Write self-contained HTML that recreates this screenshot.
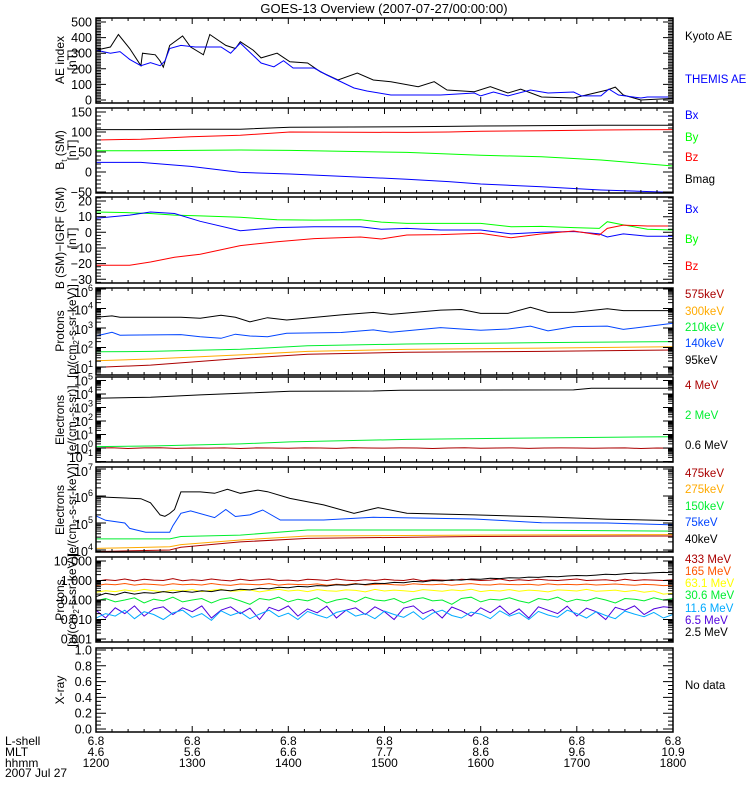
<!DOCTYPE html>
<html><head><meta charset="utf-8">
<style>
html,body{margin:0;padding:0;background:#fff;}
svg{display:block;font-family:"Liberation Sans",sans-serif;}
</style></head>
<body>
<svg id="chart" width="750" height="800" viewBox="0 0 750 800" xmlns="http://www.w3.org/2000/svg">
<text x="384" y="13" font-size="13" text-anchor="middle">GOES-13 Overview (2007-07-27/00:00:00)</text>
<g id="g"></g>
</svg>
<script>
// ---------- DATA (minutes after 12:00 ; values) ----------
const aeKyotoT=[0,9,14,21,28,29,37,40,42,46,54,59,67,71,81,87,90,98,103,113,121,132,140,151,163,173,184,201,211,219,236,246,257,265,278,298,319,324,329,340,360];
const aeKyotoV=[320,340,420,330,220,300,290,250,210,350,410,340,290,420,350,330,374,320,270,300,245,237,181,128,173,128,117,85,117,64,53,85,45,70,19,13,64,83,32,0,10];
const aeThemisT=[0,9,15,21,28,34,40,43,46,53,62,78,84,90,103,111,117,123,136,144,161,169,184,215,236,240,248,257,271,282,298,303,315,320,326,340,344,360];
const aeThemisV=[320,300,310,260,220,240,220,250,330,350,340,340,300,365,237,213,252,205,205,160,77,58,32,32,45,26,51,26,64,45,51,26,26,70,32,13,19,19];

const bSmT=[0,28,59,90,121,194,220,240,278,315,360];
const bmagV=[106,106,107,107,112,113,114,115,116,117,117];
const bzV=[80,82,88,92,100,99,100,102,103,105,106];
const byV=[53,53,54,55,54,49,45,42,38,30,15];
const bxV=[24,24,14,-1,-5,-18,-24,-30,-37,-45,-51];

const dbT=[0,21,34,49,65,90,113,136,165,178,194,215,240,259,278,298,314,319,329,344,360];
const dbXV=[9,11,13,12,7,1,3,3.6,3.6,2,2.5,1.5,1.5,-1,0,0.5,-1,-3,-1,-2.5,-2.5];
const dbYV=[13,12.5,12,11,10.5,9.6,8,7.8,8,6.5,5.7,5.7,5.7,3.6,3.8,3,2.5,6.8,4.7,2,1.5];
const dbZV=[-21,-21,-19,-16,-14,-8.5,-6,-4,-3,-4.3,-1.7,-1.5,-0.6,-3.5,-1,0.8,-1.7,2.5,4.6,4,4];

// Protons (log10 flux)
const pT=[0,10,15,53,65,78,87,96,107,119,153,173,184,215,228,240,257,271,282,298,319,329,360];
const p95V=[3.55,3.62,3.55,3.55,3.5,3.65,3.55,3.32,3.53,3.41,3.67,3.8,3.7,3.92,3.95,3.75,3.75,4.06,3.8,3.8,3.99,3.89,3.89];
const p140V=[2.59,2.78,2.63,2.66,2.55,2.47,2.68,2.59,2.55,2.73,2.77,2.9,2.78,3.02,2.95,2.88,2.95,3.1,2.85,3.07,3.1,2.93,3.24];
const pLowT=[0,34,90,132,194,278,360];
const p210V=[1.78,1.8,1.91,2.09,2.18,2.25,2.3];
const p300V=[1.32,1.41,1.62,1.8,1.9,1.97,2.04];
const p575V=[0.98,1.1,1.44,1.65,1.76,1.8,1.87];

// Electrons integral (log10)
const eT=[0,34,65,96,121,173,190,298,309,360];
const e06V=[3.68,3.76,3.93,4.08,4.2,4.22,4.28,4.3,4.42,4.43];
const e2T=[0,34,90,121,194,298,360];
const e2V=[0.1,0.15,0.3,0.45,0.64,0.77,0.84];
const e4V=[0.0,0.02,-0.04,0.01,0.02,-0.03,0.0,-0.01,0.01,-0.04,0.01,0.0,-0.02,0.01,0.0,-0.03,0.02,0.0,-0.01,0.01,0.0,-0.04,0.0,0.02,-0.02,0.0,0.01,-0.03,0.0,0.01,0.0,-0.02,0.0,0.01,-0.04,0.0,-0.01];

// Electrons differential (log10)
const edT=[0,9,28,34,40,43,46,49,53,65,74,82,90,101,107,121,142,161,176,194,236,278,319,360];
const ed40V=[5.97,5.95,5.9,5.75,5.3,5.25,5.35,5.5,6.15,6.15,6.1,6.25,6.1,6.22,6.16,5.91,5.67,5.36,5.57,5.36,5.3,5.23,5.14,5.09];
const ed75T=[0,6,18,21,31,46,48,53,59,74,81,87,96,104,115,142,173,236,278,319,360];
const ed75V=[5.26,5.1,5.0,4.8,4.66,4.66,4.9,5.36,5.45,5.2,5.5,5.24,5.3,5.48,5.11,5.11,5.21,5.15,5.01,5.0,4.93];
const edLowT=[0,46,53,90,132,236,278,360];
const ed150V=[4.41,4.41,4.5,4.55,4.74,4.74,4.73,4.7];
const ed275V=[4.06,4.12,4.2,4.37,4.52,4.55,4.56,4.57];
const ed475V=[3.94,4.0,4.1,4.3,4.43,4.5,4.51,4.52];

// High energy protons (flux, evenly spaced 12:00-18:00)
const hp433V=[0.9,1.1,1.0,1.2,0.95,1.15,1.05,1.0,1.25,0.98,1.1,1.0,1.2,1.05,0.95,1.15,1.0,1.1,1.2,1.0,1.05,0.95,1.15,1.1,1.0,1.2,1.05,0.98,1.1,1.0,1.15,1.05,1.0,1.2,0.95,1.1,1.05,1.0,1.15,1.1,1.0,1.05,1.2,0.98,1.1,1.0,1.15,1.05,1.0,1.1,1.2,1.0,1.05,1.1,0.95,1.15,1.0,1.1,1.05,1.0,1.1];
const hp165V=[0.55,0.65,0.6,0.7,0.58,0.66,0.62,0.57,0.68,0.6,0.64,0.59,0.7,0.61,0.56,0.66,0.63,0.6,0.69,0.58,0.65,0.62,0.6,0.67,0.57,0.64,0.61,0.7,0.59,0.63,0.66,0.6,0.58,0.68,0.62,0.6,0.65,0.57,0.63,0.69,0.61,0.59,0.66,0.62,0.6,0.64,0.58,0.67,0.61,0.63,0.6,0.65,0.59,0.62,0.66,0.6,0.57,0.63,0.6,0.55,0.58];
const hp63V=[0.25,0.3,0.27,0.33,0.28,0.35,0.3,0.26,0.32,0.29,0.34,0.27,0.31,0.36,0.28,0.3,0.33,0.26,0.31,0.35,0.29,0.32,0.27,0.34,0.3,0.28,0.33,0.31,0.26,0.35,0.29,0.32,0.3,0.27,0.34,0.31,0.28,0.33,0.3,0.36,0.27,0.31,0.29,0.34,0.28,0.32,0.3,0.26,0.33,0.31,0.29,0.35,0.28,0.3,0.32,0.27,0.31,0.25,0.29,0.2,0.22];
const hp30V=[0.09,0.12,0.08,0.1,0.13,0.07,0.11,0.09,0.14,0.08,0.1,0.12,0.07,0.11,0.13,0.09,0.06,0.12,0.1,0.14,0.08,0.11,0.09,0.13,0.07,0.1,0.12,0.08,0.14,0.1,0.09,0.12,0.07,0.11,0.13,0.09,0.1,0.06,0.12,0.14,0.08,0.11,0.1,0.13,0.09,0.07,0.12,0.1,0.14,0.08,0.11,0.09,0.13,0.1,0.07,0.12,0.11,0.09,0.13,0.1,0.12];
const hp11V=[0.012,0.02,0.015,0.03,0.011,0.025,0.018,0.01,0.022,0.03,0.013,0.02,0.009,0.028,0.016,0.024,0.011,0.019,0.03,0.014,0.021,0.01,0.026,0.017,0.012,0.023,0.03,0.015,0.02,0.011,0.027,0.018,0.013,0.025,0.01,0.021,0.03,0.016,0.012,0.024,0.019,0.011,0.028,0.015,0.022,0.01,0.026,0.017,0.013,0.03,0.02,0.012,0.025,0.016,0.011,0.027,0.019,0.014,0.023,0.012,0.018];
const hp6V=[0.03,0.012,0.04,0.02,0.05,0.015,0.035,0.045,0.018,0.04,0.025,0.05,0.012,0.03,0.045,0.02,0.038,0.01,0.042,0.028,0.05,0.015,0.035,0.022,0.048,0.012,0.03,0.04,0.018,0.045,0.025,0.01,0.038,0.05,0.02,0.032,0.012,0.044,0.028,0.015,0.04,0.022,0.05,0.018,0.035,0.012,0.045,0.03,0.02,0.048,0.015,0.038,0.025,0.01,0.042,0.03,0.05,0.018,0.035,0.045,0.04];
const hp2V=[0.15,0.22,0.18,0.25,0.2,0.24,0.22,0.27,0.23,0.28,0.25,0.3,0.27,0.33,0.3,0.36,0.33,0.4,0.37,0.45,0.42,0.5,0.47,0.55,0.52,0.6,0.57,0.66,0.62,0.72,0.7,0.8,0.76,0.9,0.85,1.0,0.95,1.1,1.05,1.2,1.15,1.3,1.25,1.4,1.35,1.5,1.45,1.6,1.55,1.7,1.8,1.75,1.9,2.1,2.0,2.2,2.4,2.3,2.5,2.6,2.5];

const hourLabels=['1200','1300','1400','1500','1600','1700','1800'];
const lshellLabels=['6.8','6.8','6.8','6.8','6.8','6.8','6.8'];
const mltLabels=['4.6','5.6','6.6','7.7','8.6','9.6','10.9'];

// ---------- RENDERING ----------
const NS='http://www.w3.org/2000/svg';
const G=document.getElementById('g');
const X0=96,X1=673;
function xs(m){return X0+m*(X1-X0)/360;}
function el(tag,attrs,parent){const e=document.createElementNS(NS,tag);for(const k in attrs)e.setAttribute(k,attrs[k]);(parent||G).appendChild(e);return e;}
function linS(v1,y1,v2,y2){return v=>y1+(v-v1)*(y2-y1)/(v2-v1);}
const panels=[
 {top:18,bot:103,name:'ae-panel'},
 {top:108,bot:193,name:'b-sm-panel'},
 {top:197,bot:283,name:'b-igrf-panel'},
 {top:288,bot:375,name:'protons-panel'},
 {top:377,bot:462,name:'electrons-integral-panel'},
 {top:467,bot:552,name:'electrons-diff-panel'},
 {top:557,bot:642,name:'hep-protons-panel'},
 {top:648,bot:732,name:'xray-panel'}
];
const sc=[linS(0,100,500,22),linS(0,172,150,112),linS(0,232.3,20,201),linS(1,367,5,289),linS(0,448,4,394),linS(4,550,7,469),linS(-1,600,1,561),linS(0,729,1,650)];

panels.forEach((p,i)=>{
  const cp=el('clipPath',{id:'c'+i});
  el('rect',{x:X0,y:p.top,width:X1-X0,height:p.bot-p.top},cp);
});

function line(name,color,T,V,pi,transform){
  const s=sc[pi];
  let d='';
  V.forEach((v,k)=>{const t=T?T[k]:k*360/(V.length-1);const vv=transform?transform(v):v;d+=(k?'L':'M')+xs(t).toFixed(1)+','+s(vv).toFixed(1);});
  const e=el('path',{d:d,fill:'none',stroke:color,'stroke-width':1,'clip-path':'url(#c'+pi+')'});
  
  
}
const lg=Math.log10;

line('kyoto-ae-line','#000',aeKyotoT,aeKyotoV,0);
line('themis-ae-line','#0000ff',aeThemisT,aeThemisV,0);
line('bmag-line','#000',bSmT,bmagV,1);
line('bz-line','#ff0000',bSmT,bzV,1);
line('by-line','#00ff00',bSmT,byV,1);
line('bx-line','#0000ff',bSmT,bxV,1);
line('dby-line','#00ff00',dbT,dbYV,2);
line('dbx-line','#0000ff',dbT,dbXV,2);
line('dbz-line','#ff0000',dbT,dbZV,2);
line('p95-line','#000',pT,p95V,3);
line('p140-line','#0044ff',pT,p140V,3);
line('p210-line','#00ee30',pLowT,p210V,3);
line('p300-line','#ffaa00',pLowT,p300V,3);
line('p575-line','#aa0000',pLowT,p575V,3);
line('e06-line','#000',eT,e06V,4);
line('e2-line','#00ee30',e2T,e2V,4);
line('e4-line','#aa0000',null,e4V,4);
line('ed40-line','#000',edT,ed40V,5);
line('ed75-line','#0044ff',ed75T,ed75V,5);
line('ed150-line','#00ee30',edLowT,ed150V,5);
line('ed275-line','#ffaa00',edLowT,ed275V,5);
line('ed475-line','#aa0000',edLowT,ed475V,5);
line('hp433-line','#aa0000',null,hp433V,6,lg);
line('hp165-line','#ff5500',null,hp165V,6,lg);
line('hp63-line','#ffff00',null,hp63V,6,lg);
line('hp2-line','#000',null,hp2V,6,lg);
line('hp30-line','#00ee30',null,hp30V,6,lg);
line('hp6-line','#5000dd',null,hp6V,6,lg);
line('hp11-line','#00aaff',null,hp11V,6,lg);

const yTicks=[
 {maj:[0,100,200,300,400,500],min:10,lo:-20,hi:525,lab:['0','100','200','300','400','500']},
 {maj:[-50,0,50,100,150],min:10,lo:-60,hi:160,lab:['−50','0','50','100','150']},
 {maj:[-30,-20,-10,0,10,20],min:2,lo:-33,hi:22,lab:['−30','−20','−10','0','10','20']},
 {log:true,lo:0.6,hi:5},
 {log:true,lo:-1.3,hi:5},
 {log:true,lo:3.8,hi:7},
 {log:true,lo:-3.1,hi:1},
 {maj:[0,0.2,0.4,0.6,0.8,1.0],min:0.05,lo:0,hi:1,lab:['0.0','0.2','0.4','0.6','0.8','1.0']}
];
panels.forEach((p,i)=>{
  const fr=el('rect',{x:X0,y:p.top,width:X1-X0,height:p.bot-p.top,fill:'none',stroke:'#000','stroke-width':1.5});
  
  
  let d='';
  for(let m=0;m<=360;m+=10){const x=xs(m).toFixed(1);const L=(m%60==0)?6:3;d+='M'+x+','+p.top+'v'+L+'M'+x+','+p.bot+'v-'+L;}
  const s=sc[i],yt=yTicks[i];
  const addY=(y,L)=>{if(y<p.top-0.5||y>p.bot+0.5)return;d+='M'+X0+','+y.toFixed(1)+'h'+L+'M'+X1+','+y.toFixed(1)+'h-'+L;};
  if(yt.log){
    for(let dec=Math.floor(yt.lo);dec<=Math.ceil(yt.hi);dec++){
      addY(s(dec),10);
      for(let k=2;k<10;k++)addY(s(dec+Math.log10(k)),5);
    }
  } else {
    yt.maj.forEach(v=>addY(s(v),10));
    for(let v=yt.lo;v<=yt.hi+1e-9;v+=yt.min){addY(s(Math.round(v/yt.min)*yt.min),5);}
  }
  const tk=el('path',{d:d,stroke:'#000','stroke-width':1,fill:'none'});
  
  
  if(yt.lab){yt.maj.forEach((v,k)=>{const t=el('text',{x:92,y:(s(v)+4.5).toFixed(1),'font-size':12.5,'text-anchor':'end'});t.textContent=yt.lab[k];
    });}
});
function expLabel(x,y,e,name){const t=el('text',{x:x,y:y,'font-size':12.5,'text-anchor':'end'});
  
  const a=el('tspan',{},t);a.textContent='10';const b=el('tspan',{dy:-6,'font-size':9},t);b.textContent=e;}
expLabel(93,297,'6','y-tick-label');
[4,3,2,1].forEach(e=>expLabel(93,sc[3](e)+6,String(e),'y-tick-label'));
[5,4,3,2,1,0].forEach(e=>expLabel(93,sc[4](e)+5,String(e),'y-tick-label'));
expLabel(93,462,'−1','y-tick-label');
[7,6,5,4].forEach(e=>expLabel(93,Math.max(sc[5](e)+6,476),String(e),'y-tick-label'));
['10.000','1.000','0.100','0.010','0.001'].forEach((l,k)=>{const t=el('text',{x:92,y:(sc[6](1-k)+4.5).toFixed(1),'font-size':12.5,'text-anchor':'end'});t.textContent=l;
  });

function ytitle(cy,lines,name){lines.forEach((l,k)=>{const x=64+k*12;const t=el('text',{x:x,y:cy,'font-size':12,'text-anchor':'middle',transform:'rotate(-90 '+x+' '+cy+')'});t.innerHTML=l;
  });}
ytitle(60,['AE index','[nT]'],'ae-y-title');
ytitle(150,['B<tspan font-size="8" dy="3">t</tspan><tspan dy="-3"> (SM)</tspan>','[nT]'],'bsm-y-title');
ytitle(238,['B (SM)−IGRF (SM)','[nT]'],'digrf-y-title');
ytitle(331,['Protons','[p/(cm<tspan font-size="8" dy="3">2</tspan><tspan dy="-3">-s-sr-keV)]</tspan>'],'protons-y-title');
ytitle(420,['Electrons','[e/(cm<tspan font-size="8" dy="3">2</tspan><tspan dy="-3">-s-sr)]</tspan>'],'electrons-y-title');
ytitle(510,['Electrons','[e/(cm<tspan font-size="8" dy="3">2</tspan><tspan dy="-3">-s-sr-keV)]</tspan>'],'electrons-diff-y-title');
ytitle(600,['Protons','[p/(cm<tspan font-size="8" dy="3">2</tspan><tspan dy="-3">-s-sr-keV)]</tspan>'],'hep-y-title');
ytitle(690,['X-ray'],'xray-y-title');

const legends=[
 ['Kyoto AE','#000',40],['THEMIS AE','#0000ff',83],
 ['Bx','#0000ff',119],['By','#00ff00',141],['Bz','#ff0000',161],['Bmag','#000',183],
 ['Bx','#0000ff',213],['By','#00ff00',243],['Bz','#ff0000',270],
 ['575keV','#aa0000',298],['300keV','#ffaa00',315],['210keV','#00ee30',331],['140keV','#0044ff',347],['95keV','#000',364],
 ['4 MeV','#aa0000',389],['2 MeV','#00ee30',419],['0.6 MeV','#000',449],
 ['475keV','#aa0000',477],['275keV','#ffaa00',493],['150keV','#00ee30',510],['75keV','#0044ff',526],['40keV','#000',543],
 ['433 MeV','#aa0000',563],['165 MeV','#ff5500',575],['63.1 MeV','#ffff00',587],['30.6 MeV','#00ee30',599],['11.6 MeV','#00aaff',612],['6.5 MeV','#5000dd',624],['2.5 MeV','#000',636],
 ['No data','#000',689]
];
legends.forEach(l=>{const t=el('text',{x:685,y:l[2],'font-size':11.5,fill:l[1]});t.textContent=l[0];
  });

[['L-shell',745],['MLT',756],['hhmm',767],['2007 Jul 27',777]].forEach(r=>{const t=el('text',{x:5,y:r[1],'font-size':12});t.textContent=r[0];
  });
hourLabels.forEach((h,k)=>{const x=xs(k*60);
  [[lshellLabels[k],745],[mltLabels[k],756],[h,767]].forEach(r=>{const t=el('text',{x:x,y:r[1],'font-size':12,'text-anchor':'middle'});t.textContent=r[0];
    });
});
</script>
</body></html>
